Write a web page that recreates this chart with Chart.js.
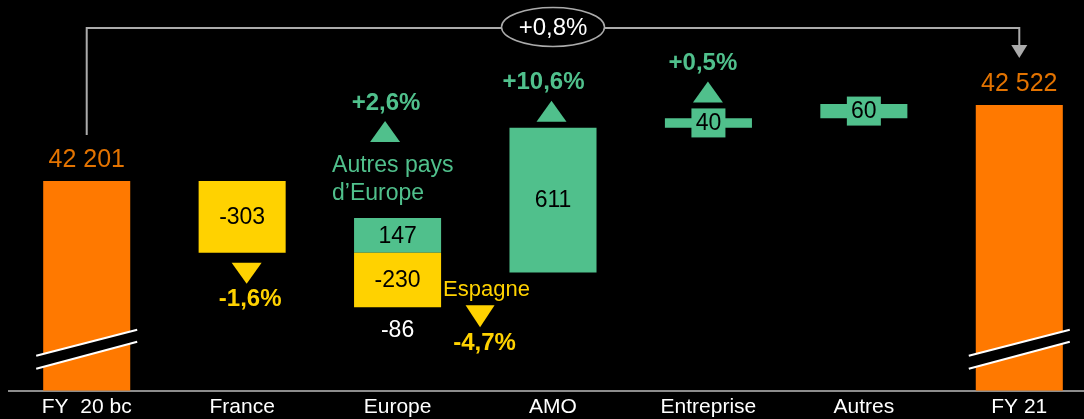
<!DOCTYPE html>
<html>
<head>
<meta charset="utf-8">
<script src="https://cdn.jsdelivr.net/npm/chart.js@4.4.1/dist/chart.umd.min.js"></script>
<style>
  html, body { margin: 0; padding: 0; background: #000; overflow: hidden; width: 1084px; height: 419px; }
  #wrap { position: relative; width: 1100px; height: 424px; }
</style>
</head>
<body>
<div id="wrap"><canvas id="c"></canvas></div>
<script>
// ---------- DATA ----------
const categories = ['FY  20 bc', 'France', 'Europe', 'AMO', 'Entreprise', 'Autres', 'FY 21'];
const totals = [42201, null, null, null, null, null, 42522];
const increases = [null, null, 147, 611, 40, 60, null];
const decreases = [null, -303, -230, null, null, null, null];
const netChanges = [null, null, -86, null, null, null, null];
const increaseGrowth = [null, null, '+2,6%', '+10,6%', '+0,5%', null, null];
const decreaseGrowth = [null, '-1,6%', '-4,7%', null, null, null, null];
const increaseNames = [null, null, ['Autres pays', 'd\u2019Europe'], null, null, null, null];
const decreaseNames = [null, null, 'Espagne', null, null, null, null];
const totalGrowth = '+0,8%';
const axisBreakBase = 41315;   // broken value axis starts here
const axisTop = 42965;

// ---------- WATERFALL RANGES ----------
const totalRanges = [], incRanges = [], decRanges = [];
let running = null;
categories.forEach((c, i) => {
  if (totals[i] != null) {
    totalRanges.push([axisBreakBase, totals[i]]);
    incRanges.push(null); decRanges.push(null);
    running = totals[i];
  } else {
    totalRanges.push(null);
    const start = running;
    decRanges.push(decreases[i] != null ? [start + decreases[i], start] : null);
    incRanges.push(increases[i] != null ? [start, start + increases[i]] : null);
    running = start + (increases[i] || 0) + (decreases[i] || 0);
  }
});

// ---------- STYLE ----------
const FONT = "'Liberation Sans', Arial, Helvetica, sans-serif";
const ORANGE = '#FF7900', ORANGE_TEXT = '#E37300', YELLOW = '#FFD200', GREEN = '#50C08C', GRAY = '#ABABAB';
const fmt = v => (v < 0 ? '-' : '') + Math.abs(v).toString().replace(/\B(?=(\d{3})+(?!\d))/g, ' ');

// annotation offsets (pixels, relative to the bar centre)
const upPos = { 2: { tri: -12.5, txt: -11.5 }, 3: { tri: -1.5, txt: -9.5 }, 4: { tri: -0.5, txt: -5.5 } };
const downPos = { 1: { tri: 4.5, txt: 8 }, 2: { tri: 82.5, txt: 87 } };

const notes = {
  id: 'notes',
  afterDatasetsDraw(chart) {
    const { ctx, scales: { x, y } } = chart;
    const text = (s, px, py, color, font, align = 'center') => {
      ctx.font = font; ctx.fillStyle = color; ctx.textAlign = align; ctx.textBaseline = 'middle';
      ctx.fillText(s, px, py);
    };
    const tri = (cx, yBase, w, h, up, color) => {
      ctx.beginPath();
      ctx.moveTo(cx - w / 2, yBase); ctx.lineTo(cx + w / 2, yBase);
      ctx.lineTo(cx, up ? yBase - h : yBase + h); ctx.closePath();
      ctx.fillStyle = color; ctx.fill();
    };
    ctx.save();
    const firstIdx = 0, lastIdx = categories.length - 1;

    // totals: value labels + axis-break marks
    categories.forEach((c, i) => {
      if (totals[i] == null) return;
      const cx = x.getPixelForValue(i);
      const top = y.getPixelForValue(totals[i]);
      text(fmt(totals[i]), cx, top - 21, ORANGE_TEXT, `25px ${FONT}`);
      const b = y.getPixelForValue(axisBreakBase);
      ctx.beginPath();
      ctx.moveTo(cx - 50.5, b - 35); ctx.lineTo(cx + 50.5, b - 61);
      ctx.lineTo(cx + 50.5, b - 49); ctx.lineTo(cx - 50.5, b - 22); ctx.closePath();
      ctx.fillStyle = '#000'; ctx.fill();
      ctx.strokeStyle = '#fff'; ctx.lineWidth = 2;
      ctx.beginPath(); ctx.moveTo(cx - 50.5, b - 35); ctx.lineTo(cx + 50.5, b - 61); ctx.stroke();
      ctx.beginPath(); ctx.moveTo(cx - 50.5, b - 22); ctx.lineTo(cx + 50.5, b - 49); ctx.stroke();
    });

    // increases
    categories.forEach((c, i) => {
      const r = incRanges[i]; if (!r) return;
      const cx = x.getPixelForValue(i);
      const yTop = y.getPixelForValue(r[1]), yBot = y.getPixelForValue(r[0]);
      const mid = (yTop + yBot) / 2;
      let visTop = yTop;
      if (yBot - yTop < 28) {
        ctx.fillStyle = GREEN; ctx.fillRect(cx - 17, mid - 14.5, 34, 29);
        visTop = mid - 14.5;
      }
      text(fmt(increases[i]), cx, mid + 1, '#000', `23px ${FONT}`);
      if (increaseGrowth[i]) {
        const p = upPos[i] || { tri: 0, txt: 0 };
        let base = visTop - 6;
        if (increaseNames[i]) {
          increaseNames[i].forEach((ln, k) => text(ln, cx - 65.5, visTop - 52 + k * 28, GREEN, `23px ${FONT}`, 'left'));
          base = visTop - 76;
        }
        tri(cx + p.tri, base, 30, 21, true, GREEN);
        text(increaseGrowth[i], cx + p.txt, base - 39, GREEN, `bold 24px ${FONT}`);
      }
    });

    // decreases
    categories.forEach((c, i) => {
      const r = decRanges[i]; if (!r) return;
      const cx = x.getPixelForValue(i);
      const yTop = y.getPixelForValue(r[1]), yBot = y.getPixelForValue(r[0]);
      text(fmt(decreases[i]), cx, (yTop + yBot) / 2 + 1, '#000', `23px ${FONT}`);
      if (decreaseGrowth[i]) {
        const p = downPos[i] || { tri: 0, txt: 0 };
        if (decreaseNames[i]) {
          text(decreaseNames[i], cx + 45.5, yBot - 17, YELLOW, `22px ${FONT}`, 'left');
          tri(cx + p.tri, yBot - 2, 29, 22, false, YELLOW);
          text(decreaseGrowth[i], cx + p.txt, yBot + 36, YELLOW, `bold 24px ${FONT}`);
        } else {
          tri(cx + p.tri, yBot + 10, 30, 21, false, YELLOW);
          text(decreaseGrowth[i], cx + p.txt, yBot + 47, YELLOW, `bold 24px ${FONT}`);
        }
      }
      if (netChanges[i] != null) {
        text(fmt(netChanges[i]), cx, yBot + 23, '#fff', `23px ${FONT}`);
      }
    });

    // overall bracket FY20 -> FY21
    const x0 = x.getPixelForValue(firstIdx), x1 = x.getPixelForValue(lastIdx);
    const t0 = y.getPixelForValue(totals[firstIdx]);
    const yb = 28;
    ctx.strokeStyle = GRAY; ctx.lineWidth = 2;
    ctx.beginPath();
    ctx.moveTo(x0, t0 - 46); ctx.lineTo(x0, yb); ctx.lineTo(x1, yb); ctx.lineTo(x1, 46);
    ctx.stroke();
    ctx.beginPath(); ctx.moveTo(x1 - 8, 45); ctx.lineTo(x1 + 8, 45); ctx.lineTo(x1, 58); ctx.closePath();
    ctx.fillStyle = GRAY; ctx.fill();
    const ex = x.getPixelForValue(3);
    ctx.beginPath(); ctx.ellipse(ex, 27, 51.5, 19.5, 0, 0, Math.PI * 2);
    ctx.fillStyle = '#000'; ctx.fill();
    ctx.lineWidth = 1.5; ctx.strokeStyle = GRAY; ctx.stroke();
    text(totalGrowth, ex, 28, '#fff', `24px ${FONT}`);
    ctx.restore();
  }
};

new Chart(document.getElementById('c'), {
  type: 'bar',
  data: {
    labels: categories,
    datasets: [
      { data: totalRanges, backgroundColor: ORANGE, grouped: false },
      { data: decRanges, backgroundColor: YELLOW, grouped: false },
      { data: incRanges, backgroundColor: GREEN, grouped: false }
    ]
  },
  options: {
    responsive: true,
    maintainAspectRatio: false,
    animation: false,
    barPercentage: 0.56,
    categoryPercentage: 1,
    layout: { padding: { left: 9, right: 3, top: 0, bottom: 0 } },
    plugins: { legend: { display: false }, tooltip: { enabled: false } },
    scales: {
      x: {
        offset: true,
        grid: { display: false, drawTicks: false },
        border: { display: true, color: '#8C8C8C', width: 2 },
        ticks: { color: '#fff', font: { family: FONT, size: 21 }, padding: 4, maxRotation: 0, autoSkip: false }
      },
      y: { display: false, min: axisBreakBase, max: axisTop }
    }
  },
  plugins: [notes]
});
</script>
</body>
</html>
